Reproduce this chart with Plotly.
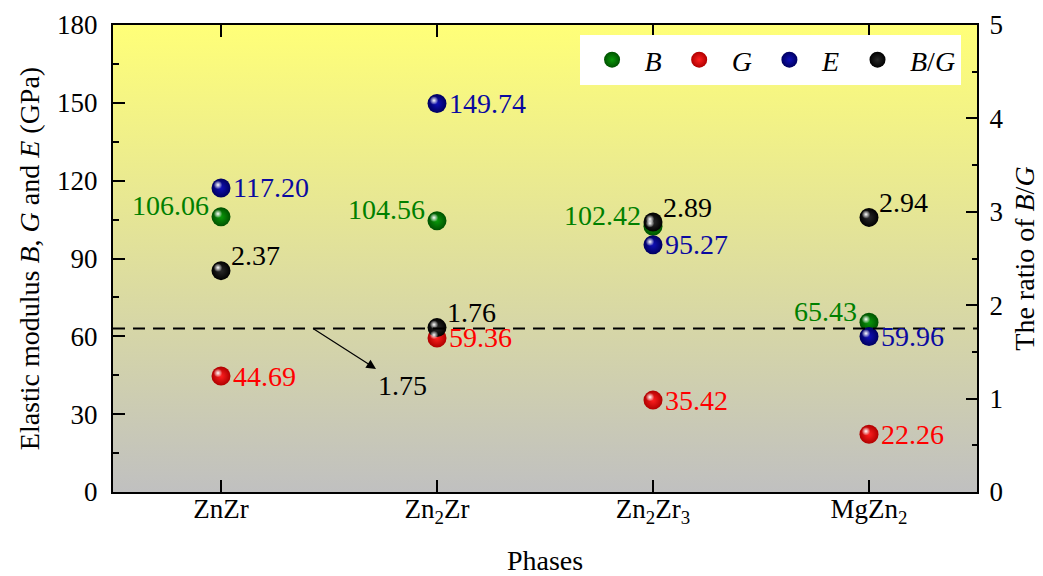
import base64
import plotly.graph_objects as go

# ---------------- data ----------------
phases = ["ZnZr", "Zn<sub>2</sub>Zr", "Zn<sub>2</sub>Zr<sub>3</sub>", "MgZn<sub>2</sub>"]
B_vals = [106.06, 104.56, 102.42, 65.43]
G_vals = [44.69, 59.36, 35.42, 22.26]
E_vals = [117.20, 149.74, 95.27, 59.96]
BG_vals = [2.37, 1.76, 2.89, 2.94]
bg_threshold = 1.75

# ---------------- style ----------------
FONT = "Liberation Serif"
L, R, T, Bm = 113, 66, 25, 84
W, H = 1043, 576
plot_w = W - L - R
plot_h = H - T - Bm

series = [
    # name, values, axis, edge color, center color, text color, xanchor, xshift, yshift
    ("<i>B</i>", B_vals, "y", "#005200", "#0a9a0a", "#008000", "right", -10, 11),
    ("<i>G</i>", G_vals, "y", "#b00000", "#ff2020", "#ff0000", "left", 10, 0),
    ("<i>E</i>", E_vals, "y", "#000060", "#1010b8", "#0a0aa0", "left", 10, 0),
    ("<i>B</i>/<i>G</i>", BG_vals, "y2", "#000000", "#2a2a2a", "#000000", "left", 8, 15),
]

fig = go.Figure()
annotations = []
for name, vals, yax, edge, center, tcol, xa, xs, ys in series:
    fig.add_trace(go.Scatter(
        x=phases, y=vals, name=name, mode="markers", yaxis=yax,
        marker=dict(size=19, color=edge, line=dict(width=0),
                    gradient=dict(type="radial", color=center)),
        showlegend=True, cliponaxis=False,
    ))
    for p, v in zip(phases, vals):
        annotations.append(dict(
            x=p, y=v, xref="x", yref=yax, text=f"{v:.2f}", showarrow=False,
            xanchor=xa, yanchor="middle", xshift=xs, yshift=ys,
            font=dict(family=FONT, size=28, color=tcol)))

# specular highlights (same points, drawn on overlay axes shifted a few pixels)
dpx = 3
dx = dpx * 4 / plot_w
for name, vals, yax, *_ in series:
    ya = "y3" if yax == "y" else "y4"
    fig.add_trace(go.Scatter(
        x=phases, y=vals, mode="markers", xaxis="x2", yaxis=ya, showlegend=False,
        hoverinfo="skip", cliponaxis=False,
        marker=dict(size=8, color="rgba(255,255,255,0.1)", line=dict(width=0),
                    gradient=dict(type="radial", color="rgba(255,255,255,1)")),
    ))

# threshold arrow annotation
annotations.append(dict(
    x=0.426, y=bg_threshold, xref="x", yref="y2", text=f"{bg_threshold:.2f}",
    showarrow=True, ax=89, ay=57, arrowside="start", startarrowhead=2,
    startarrowsize=1.6, arrowwidth=1.2, arrowcolor="black",
    font=dict(family=FONT, size=28, color="black")))

# gradient background
svg = ('<svg xmlns="http://www.w3.org/2000/svg" width="10" height="100" '
       'preserveAspectRatio="none"><defs><linearGradient id="g" x1="0" y1="0" x2="0" y2="1">'
       '<stop offset="0" stop-color="#FFFF78"/><stop offset="1" stop-color="#C0C0C0"/>'
       '</linearGradient></defs><rect width="10" height="100" fill="url(#g)"/></svg>')
src = "data:image/svg+xml;base64," + base64.b64encode(svg.encode()).decode()

tickfont = dict(family=FONT, size=27, color="black")
titlefont = dict(family=FONT, size=28, color="black")

fig.update_layout(
    width=W, height=H,
    margin=dict(l=L, r=R, t=T, b=Bm, pad=0, autoexpand=False),
    paper_bgcolor="white", plot_bgcolor="rgba(0,0,0,0)",
    images=[dict(source=src, xref="paper", yref="paper", x=0, y=1, sizex=1, sizey=1,
                 sizing="stretch", layer="below", xanchor="left", yanchor="top")],
    shapes=[dict(type="line", xref="paper", x0=0, x1=1, yref="y2",
                 y0=bg_threshold, y1=bg_threshold,
                 line=dict(color="black", width=2, dash="12px,8px"))],
    annotations=annotations,
    showlegend=True,
    legend=dict(orientation="h", x=0.54, xanchor="left", y=0.9786, yanchor="top",
                bgcolor="white", borderwidth=0, font=dict(family=FONT, size=28, color="black"),
                itemwidth=55, itemsizing="trace"),
    xaxis=dict(type="category", categoryarray=phases, range=[-0.5, 3.5], automargin=False,
               showline=True, linecolor="black", linewidth=2, mirror="ticks",
               ticks="inside", ticklen=12, tickwidth=2, tickcolor="black",
               tickfont=tickfont, ticklabelstandoff=-8, showgrid=False, zeroline=False,
               title=dict(text="Phases", font=titlefont, standoff=34)),
    xaxis2=dict(type="category", categoryarray=phases, overlaying="x",
                range=[-0.5 + dx, 3.5 + dx], visible=False),
    yaxis=dict(range=[0, 180], dtick=30, showline=True, linecolor="black", linewidth=2,
               automargin=False,
               ticks="inside", ticklen=12, tickwidth=2, tickcolor="black",
               minor=dict(ticks="inside", ticklen=6, tickwidth=2, dtick=15, tickcolor="black"),
               tickfont=tickfont, ticklabelstandoff=8, showgrid=False, zeroline=False,
               title=dict(text="Elastic modulus <i>B</i>, <i>G</i> and <i>E</i> (GPa)",
                          font=titlefont, standoff=9)),
    yaxis2=dict(range=[0, 5], dtick=1, overlaying="y", side="right", showline=True,
                automargin=False,
                linecolor="black", linewidth=2, ticks="inside", ticklen=11, tickwidth=2,
                tickcolor="black",
                minor=dict(ticks="inside", ticklen=5, tickwidth=2, dtick=0.5, tickcolor="black"),
                tickfont=tickfont, ticklabelstandoff=5, showgrid=False, zeroline=False,
                title=dict(text="The ratio of <i>B</i>/<i>G</i>", font=titlefont, standoff=12)),
    yaxis3=dict(overlaying="y", range=[0 - dpx * 180 / plot_h, 180 - dpx * 180 / plot_h],
                visible=False),
    yaxis4=dict(overlaying="y", range=[0 - dpx * 5 / plot_h, 5 - dpx * 5 / plot_h],
                visible=False),
)

fig.write_html("out.html")
